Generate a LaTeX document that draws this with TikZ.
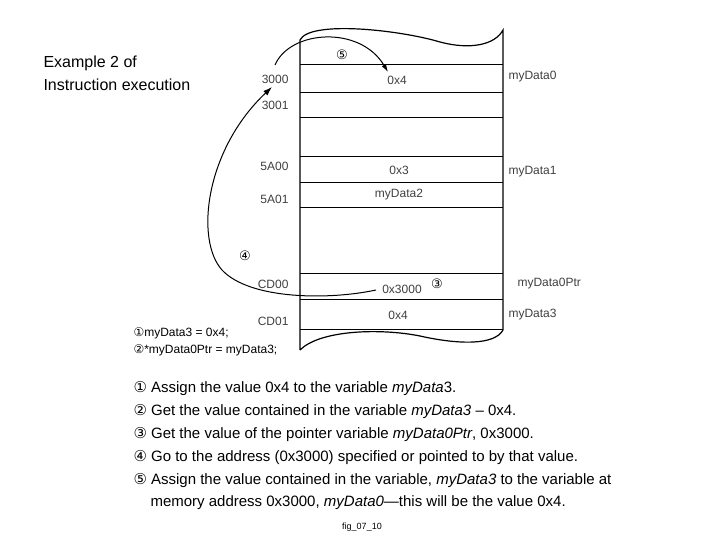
\documentclass[tikz,border=0pt]{standalone}
\usepackage{fontspec}
\setmainfont{Liberation Sans}
\newfontfamily\djvfont{DejaVu Sans}
\usetikzlibrary{arrows.meta}
\begin{document}
\begin{tikzpicture}[x=1pt,y=-1pt,
  mem/.style={font=\fontsize{12}{14}\selectfont,text=black!75},
  lst/.style={anchor=west,font=\fontsize{15}{17}\selectfont},
  circ/.style={font=\djvfont\fontsize{13}{15}\selectfont}]
\useasboundingbox (0,0) rectangle (720,540);
\fill[white] (0,0) rectangle (720,540);
% box
\draw[line width=1.2pt] (300,350) -- (300,40) .. controls (310,20) and (400,30) .. (440,42) .. controls (470,50) and (495,45) .. (503,30) -- (503,330) .. controls (495,345) and (460,345) .. (420,336) .. controls (380,328) and (320,330) .. (300,350);
\foreach \y in {64,92,117,156,182,207,273,299,329}
  \draw[line width=0.9pt] (300,\y) -- (503,\y);
\foreach \t/\y [count=\i] in {3000/79,3001/105,5A00/166,5A01/199,CD00/284,CD01/321}
  \node[mem,anchor=east] (a\i) at (292,\y) {\t};
\node[mem] (v1) at (397,80) {0x4};
\node[mem] (v2) at (399,170) {0x3};
\node[mem] (v3) at (399,195) {myData2};
\node[mem] (v4) at (402,289) {0x3000};
\node[mem] (v5) at (398,315) {0x4};
\node[mem,anchor=west] (n1) at (505,77) {myData0};
\node[mem,anchor=west] (n2) at (505,172) {myData1};
\node[mem,anchor=west] (n3) at (514,284) {myData0Ptr};
\node[mem,anchor=west] (n4) at (505,315) {myData3};
\node[circ] (c3) at (437,284) {③};
\node[circ] (c4) at (245,256) {④};
\node[circ] (c5) at (342,55) {⑤};
% arrows
\coordinate (s4) at (376,290);
\coordinate (e4) at (272,87);
\draw[line width=1pt,-{Latex[length=9pt,width=6pt]}] (s4) .. controls (330,300) and (250,300) .. (222,270) .. controls (195,240) and (205,150) .. (e4);
\coordinate (s5) at (275,65);
\coordinate (e5) at (388,72);
\draw[line width=1pt,-{Latex[length=8pt,width=5pt]}] (s5) .. controls (290,30) and (360,25) .. (e5);
% title
\node[anchor=west,align=left,font=\fontsize{16}{23}\selectfont] (title) at (40,73) {Example 2 of\\Instruction execution};
% code
\node[anchor=west,font=\fontsize{12}{14}\selectfont] (k1) at (130,333) {{\djvfont①}myData3 = 0x4;};
\node[anchor=west,font=\fontsize{12}{14}\selectfont] (k2) at (130,350) {{\djvfont②}*myData0Ptr = myData3;};
% list
\node[lst] (l1) at (130,389) {{\djvfont①} Assign the value 0x4 to the variable \textit{myData}3.};
\node[lst] (l2) at (130,412) {{\djvfont②} Get the value contained in the variable \textit{myData3} – 0x4.};
\node[lst] (l3) at (130,435) {{\djvfont③} Get the value of the pointer variable \textit{myData0Ptr}, 0x3000.};
\node[lst] (l4) at (130,458) {{\djvfont④} Go to the address (0x3000) specified or pointed to by that value.};
\node[lst] (l5) at (130,481) {{\djvfont⑤} Assign the value contained in the variable, \textit{myData3} to the variable at};
\node[lst] (l6) at (147,503) {memory address 0x3000, \textit{myData0}—this will be the value 0x4.};
\node[font=\fontsize{9}{11}\selectfont] (fig) at (362,527) {fig\_07\_10};
\end{tikzpicture}
\end{document}
